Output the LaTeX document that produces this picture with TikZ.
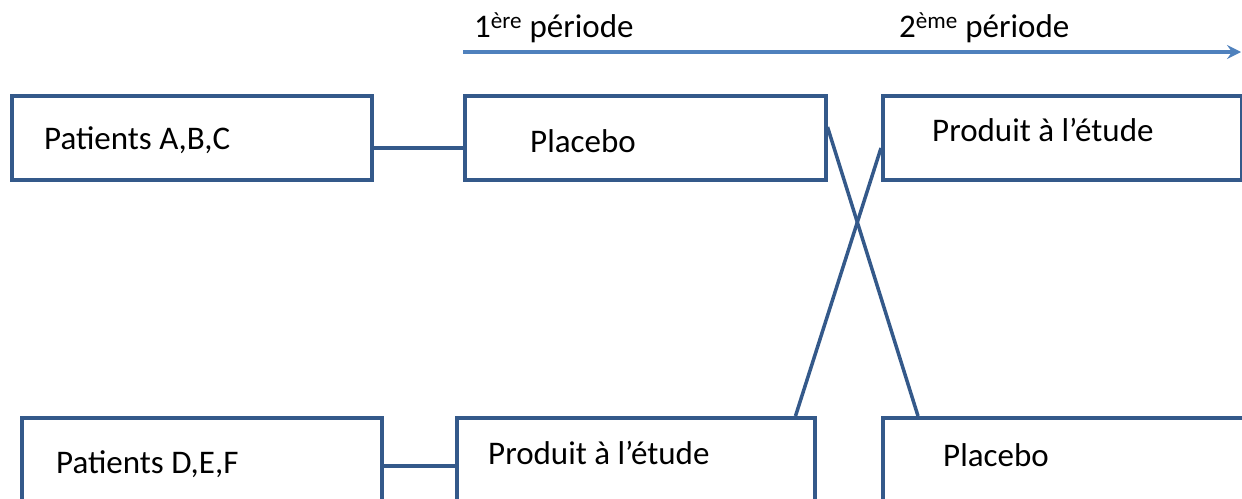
\documentclass[tikz,border=0pt]{standalone}
\usepackage{fontspec}
\setmainfont{Carlito}
\usetikzlibrary{arrows.meta}
\definecolor{boxblue}{HTML}{34598A}
\definecolor{arrowblue}{HTML}{4F81BD}
\begin{document}
\begin{tikzpicture}[x=1pt,y=-1pt,
  box/.style={draw=boxblue,line width=3.5pt,minimum width=#1,minimum height=84pt,anchor=north west,inner sep=0pt},
  tallbox/.style={draw=boxblue,line width=3.5pt,minimum width=#1,minimum height=110pt,anchor=north west,inner sep=0pt},
  lbl/.style={anchor=west,inner sep=0pt,font=\fontsize{33}{38}\selectfont},
  conn/.style={draw=boxblue,line width=3.5pt}]
\useasboundingbox (0,0) rectangle (1242,498);
\clip (0,0) rectangle (1242,498);
% top row
\node[box=360pt] (b1) at (10,94) {};
\node[box=361pt] (b2) at (463,94) {};
\node[box=359pt] (b3) at (881,94) {};
% bottom row
\node[tallbox=360pt] (b4) at (20,416) {};
\node[tallbox=358pt] (b5) at (455,416) {};
\node[tallbox=380pt] (b6) at (881,416) {};
% labels
\node[lbl] (t1) at (44,140) {Patients A,B,C};
\node[lbl] (t2) at (530,141) {Placebo};
\node[lbl] (t3) at (932,130) {Produit à l’étude};
\node[lbl] (t4) at (56,464) {Patients D,E,F};
\node[lbl] (t5) at (488,453) {Produit à l’étude};
\node[lbl] (t6) at (943,455) {Placebo};
% connectors
\draw[conn] ([yshift=-10pt]b1.east) -- ([yshift=-10pt]b2.west);
\draw[conn] ([yshift=7pt]b4.east) -- ([yshift=7pt]b5.west);
\draw[conn] ([yshift=-33pt]b2.north east) -- ([xshift=37pt]b6.north west);
\draw[conn] ([yshift=-54pt]b3.north west) -- ([xshift=-21pt]b5.north east);
% period arrow
\coordinate (a0) at (463,52);
\coordinate (a1) at (1241,52);
\draw[draw=arrowblue,line width=3.2pt,-{Stealth[length=14pt,width=14pt,inset=5pt]}] (a0) -- (a1);
\node[lbl] (p1) at (474,28) {1\textsuperscript{ère} période};
\node[lbl] (p2) at (899,28) {2\textsuperscript{ème} période};
\end{tikzpicture}
\end{document}
